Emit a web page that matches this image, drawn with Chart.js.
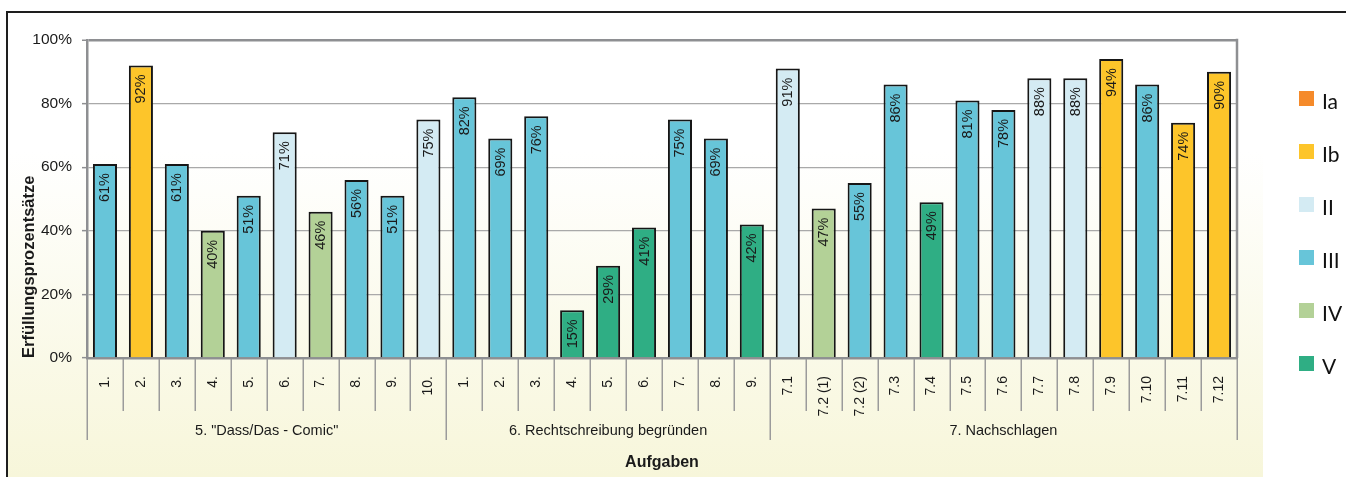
<!DOCTYPE html>
<html>
<head>
<meta charset="utf-8">
<title>Erfüllungsprozentsätze nach Aufgaben</title>
<script src="https://cdn.jsdelivr.net/npm/chart.js@4.4.1/dist/chart.umd.min.js"></script>
<style>
  html, body { margin: 0; padding: 0; background: #ffffff; }
  #wrap { position: relative; width: 1346px; height: 477px; }
  #legend { position: absolute; left: 1299px; top: 0; font-family: Lato, "Open Sans", sans-serif; font-size: 21px; color: #111; }
  #legend .item { position: absolute; left: 0; display: flex; align-items: center; white-space: nowrap; height: 24px; }
  #legend .sw { width: 15px; height: 15px; margin-right: 8px; margin-top: -4px; }
</style>
</head>
<body>
<div id="wrap">
  <canvas id="chart"></canvas>
  <div id="legend"></div>
</div>
<script>
// Task labels along the x axis
const tasks = [
  '1.', '2.', '3.', '4.', '5.', '6.', '7.', '8.', '9.', '10.',
  '1.', '2.', '3.', '4.', '5.', '6.', '7.', '8.', '9.',
  '7.1', '7.2 (1)', '7.2 (2)', '7.3', '7.4', '7.5', '7.6', '7.7', '7.8', '7.9', '7.10', '7.11', '7.12'
];

// Erfüllungsprozentsätze per task (%)
const values = [
  61, 92, 61, 40, 51, 71, 46, 56, 51, 75,
  82, 69, 76, 15, 29, 41, 75, 69, 42,
  91, 47, 55, 86, 49, 81, 78, 88, 88, 94, 86, 74, 90
];

// Kompetenzstufe of each task
const levels = [
  'III', 'Ib', 'III', 'IV', 'III', 'II', 'IV', 'III', 'III', 'II',
  'III', 'III', 'III', 'V', 'V', 'V', 'III', 'III', 'V',
  'II', 'IV', 'III', 'III', 'V', 'III', 'III', 'II', 'II', 'Ib', 'III', 'Ib', 'Ib'
];

// Levels and their colours
const levelNames = ['Ia', 'Ib', 'II', 'III', 'IV', 'V'];
const levelColors = ['#f58a2a', '#fdc52a', '#d4ebf3', '#67c5d9', '#b3d197', '#2fae84'];

// Task groups on the second row of the x axis
const groupNames = ['5. "Dass/Das - Comic"', '6. Rechtschreibung begründen', '7. Nachschlagen'];
const groupSizes = [10, 9, 13];

// Y axis ticks
const yTicks = [0, 20, 40, 60, 80, 100];

const TEXT = '#1a1a1a';
const AXIS = '#8e8f92';
const GRID = '#a9a9a9';
const SANS = '"Liberation Sans", Arial, sans-serif';

const datasets = levelNames.map((lv, k) => ({
  label: lv,
  data: values.map((v, i) => (levels[i] === lv ? v : null)),
  backgroundColor: levelColors[k],
  borderColor: '#161616',
  borderWidth: 2,
  grouped: false,
  categoryPercentage: 1,
  barPercentage: 0.67
}));

// Background wash and the outer frame lines
const backdrop = {
  id: 'backdrop',
  beforeDraw(chart) {
    const { ctx, width, height, chartArea } = chart;
    ctx.save();
    const g = ctx.createLinearGradient(0, 12, 0, height);
    g.addColorStop(0, '#ffffff');
    g.addColorStop(0.3, '#ffffff');
    g.addColorStop(1, '#f7f6da');
    ctx.fillStyle = g;
    ctx.fillRect(7, 12, chartArea.right + 26 - 7, height - 12);
    ctx.strokeStyle = '#1e1e1e';
    ctx.lineWidth = 2;
    ctx.beginPath();
    ctx.moveTo(6, 12); ctx.lineTo(width, 12);
    ctx.moveTo(7, 12); ctx.lineTo(7, height);
    ctx.stroke();
    ctx.restore();
  }
};

// Right border of the plot, category dividers and group captions
const groupAxis = {
  id: 'groupAxis',
  afterDraw(chart) {
    const { ctx, chartArea } = chart;
    const x = chart.scales.x;
    const step = x.getPixelForValue(1) - x.getPixelForValue(0);
    const edge = i => x.getPixelForValue(i) - step / 2;
    const y0 = chartArea.bottom;
    ctx.save();
    // right border of the plot area
    ctx.strokeStyle = AXIS;
    ctx.lineWidth = 2.5;
    ctx.beginPath();
    ctx.moveTo(chartArea.right, chartArea.top - 1.2);
    ctx.lineTo(chartArea.right, chartArea.bottom);
    ctx.stroke();

    const bounds = [0];
    groupSizes.forEach(n => bounds.push(bounds[bounds.length - 1] + n));
    ctx.strokeStyle = '#9b9b9b';
    ctx.lineWidth = 1.5;
    ctx.beginPath();
    for (let i = 0; i <= tasks.length; i++) {
      const px = Math.round(edge(i)) + 0.25;
      const isGroup = bounds.includes(i);
      ctx.moveTo(px, y0 + 1);
      ctx.lineTo(px, isGroup ? y0 + 82 : y0 + 53);
    }
    ctx.stroke();

    ctx.fillStyle = TEXT;
    ctx.font = '14.5px ' + SANS;
    ctx.textAlign = 'center';
    ctx.textBaseline = 'middle';
    groupNames.forEach((name, g) => {
      const cx = (edge(bounds[g]) + edge(bounds[g + 1])) / 2;
      ctx.fillText(name, cx, y0 + 73);
    });
    ctx.restore();
  }
};

// Percent labels written upward inside the top of each bar
const barLabels = {
  id: 'barLabels',
  afterDatasetsDraw(chart) {
    const { ctx } = chart;
    ctx.save();
    ctx.fillStyle = TEXT;
    ctx.font = '14.5px ' + SANS;
    ctx.textAlign = 'right';
    ctx.textBaseline = 'middle';
    chart.data.datasets.forEach((ds, di) => {
      const meta = chart.getDatasetMeta(di);
      meta.data.forEach((bar, i) => {
        const v = ds.data[i];
        if (v === null || v === undefined) return;
        ctx.save();
        ctx.translate(bar.x + 0.5, bar.y + 9);
        ctx.rotate(-Math.PI / 2);
        ctx.fillText(v + '%', 0, 0);
        ctx.restore();
      });
    });
    ctx.restore();
  }
};

const chart = new Chart(document.getElementById('chart'), {
  type: 'bar',
  data: { labels: tasks, datasets },
  options: {
    responsive: true,
    maintainAspectRatio: false,
    animation: false,
    layout: { padding: { left: 0, top: 40, right: 109, bottom: 0 } },
    plugins: {
      legend: { display: false },
      tooltip: { enabled: false }
    },
    scales: {
      x: {
        type: 'category',
        offset: true,
        grid: { display: false },
        border: { display: true, color: AXIS, width: 2.5 },
        ticks: {
          autoSkip: false,
          minRotation: 90,
          maxRotation: 90,
          padding: 10,
          color: TEXT,
          font: { family: SANS, size: 14 }
        },
        title: {
          display: true,
          text: 'Aufgaben',
          color: TEXT,
          font: { family: SANS, size: 16, weight: 'bold' },
          padding: { top: 0, bottom: 5 }
        },
        afterFit(scale) { scale.height = 119; }
      },
      y: {
        min: yTicks[0],
        max: yTicks[yTicks.length - 1],
        afterBuildTicks(scale) { scale.ticks = yTicks.map(v => ({ value: v })); },
        grid: {
          color: c => (c.tick && c.tick.value === 100 ? AXIS : GRID),
          lineWidth: c => (c.tick && c.tick.value === 100 ? 2.5 : 1.3),
          tickColor: AXIS,
          tickLength: 5,
          tickWidth: 1.5
        },
        border: { display: true, color: AXIS, width: 2.5 },
        ticks: {
          padding: 10,
          color: TEXT,
          font: { family: SANS, size: 15.5 },
          callback: v => v + '%'
        },
        title: {
          display: true,
          text: 'Erfüllungsprozentsätze',
          align: 'start',
          color: TEXT,
          font: { family: SANS, size: 16.5, weight: 'bold' },
          padding: { top: 20, bottom: 0 }
        },
        afterFit(scale) { scale.width = 87; }
      }
    }
  },
  plugins: [backdrop, groupAxis, barLabels]
});

// Legend built from the datasets
const legend = document.getElementById('legend');
chart.data.datasets.forEach((ds, k) => {
  const item = document.createElement('div');
  item.className = 'item';
  item.style.top = (88 + k * 53) + 'px';
  const sw = document.createElement('span');
  sw.className = 'sw';
  sw.style.background = ds.backgroundColor;
  const txt = document.createElement('span');
  txt.textContent = ds.label;
  item.appendChild(sw);
  item.appendChild(txt);
  legend.appendChild(item);
});
</script>
</body>
</html>
